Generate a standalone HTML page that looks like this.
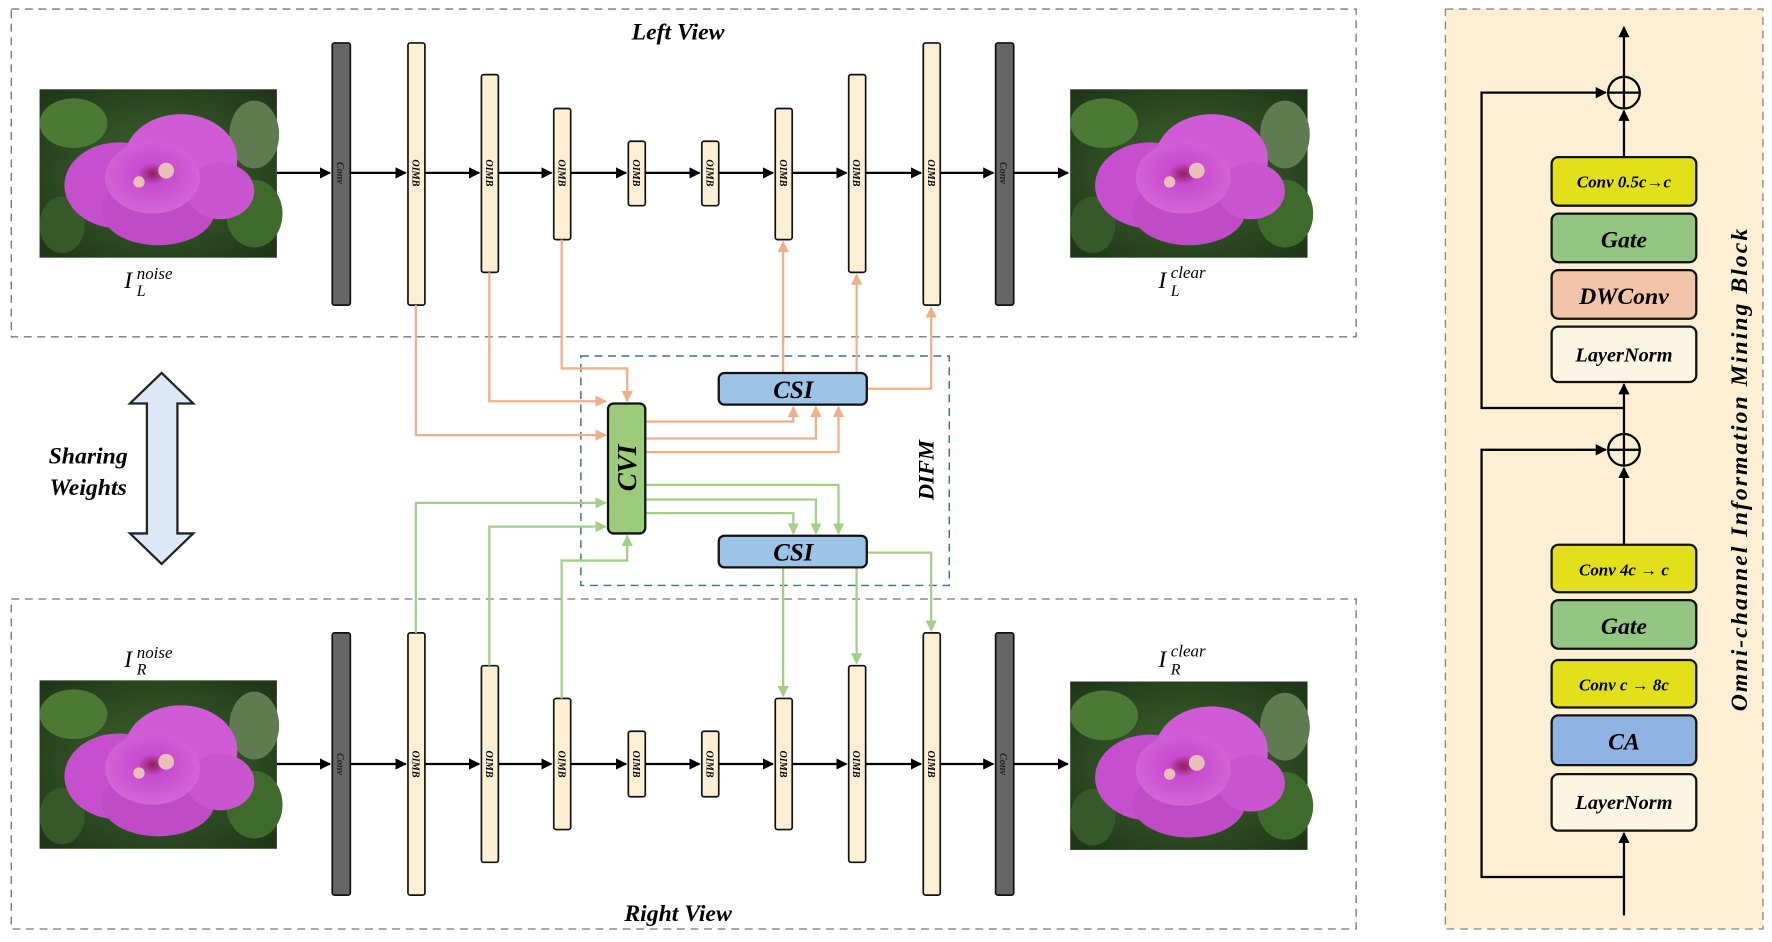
<!DOCTYPE html>
<html><head><meta charset="utf-8"><style>
html,body{margin:0;padding:0;background:#fff;}
svg{display:block;}
text{font-family:"Liberation Serif",serif;font-weight:bold;font-style:italic;}
</style></head><body>
<svg width="1772" height="942" viewBox="0 0 1568 833.5" preserveAspectRatio="none" xmlns="http://www.w3.org/2000/svg">
<defs>
<marker id="ak" viewBox="0 0 10 10" refX="9" refY="5" markerWidth="5" markerHeight="5" orient="auto"><path d="M0,0 L10,5 L0,10 z" fill="#000"/></marker>
<marker id="ao" viewBox="0 0 10 10" refX="9" refY="5" markerWidth="5" markerHeight="5" orient="auto"><path d="M0,0 L10,5 L0,10 z" fill="#f0b086"/></marker>
<marker id="ag" viewBox="0 0 10 10" refX="9" refY="5" markerWidth="5" markerHeight="5" orient="auto"><path d="M0,0 L10,5 L0,10 z" fill="#a3cf86"/></marker>
<radialGradient id="bg" cx="50%" cy="50%" r="70%"><stop offset="0" stop-color="#3f6a2e"/><stop offset="1" stop-color="#1f3318"/></radialGradient>
<radialGradient id="pet" cx="50%" cy="45%" r="60%"><stop offset="0" stop-color="#8e1e58"/><stop offset="0.25" stop-color="#c84ad0"/><stop offset="1" stop-color="#d46ad8"/></radialGradient>
<g id="flower">
<rect x="0" y="0" width="210" height="149" fill="url(#bg)"/>
<ellipse cx="30" cy="30" rx="30" ry="22" fill="#4c7a34"/>
<ellipse cx="190" cy="40" rx="22" ry="30" fill="#5f7c50"/>
<ellipse cx="190" cy="110" rx="25" ry="30" fill="#3e6b2c"/>
<ellipse cx="20" cy="120" rx="20" ry="25" fill="#36592a"/>
<ellipse cx="70" cy="85" rx="48" ry="38" fill="#c64fd0"/>
<ellipse cx="125" cy="62" rx="50" ry="40" fill="#cf5bd6"/>
<ellipse cx="105" cy="108" rx="50" ry="30" fill="#bf4bc7"/>
<ellipse cx="160" cy="90" rx="30" ry="25" fill="#c955cf"/>
<ellipse cx="100" cy="78" rx="42" ry="32" fill="url(#pet)"/>
<circle cx="112" cy="72" r="7" fill="#e8c0b8"/>
<circle cx="88" cy="82" r="5" fill="#e8c0b8"/>
</g>
</defs>

<rect x="10" y="8" width="1190" height="290" fill="none" stroke="#777" stroke-width="1.2" stroke-dasharray="7,5"/>
<rect x="10" y="530" width="1190" height="292" fill="none" stroke="#777" stroke-width="1.2" stroke-dasharray="7,5"/>
<rect x="1279" y="8" width="281" height="814" fill="#fcefd3" stroke="#888" stroke-width="1.2" stroke-dasharray="7,5"/>

<text x="600" y="35" font-size="21" text-anchor="middle">Left View</text>
<text x="600" y="815" font-size="21" text-anchor="middle">Right View</text>

<use href="#flower" x="35" y="79"/>
<use href="#flower" x="947" y="79"/>
<use href="#flower" x="35" y="602"/>
<use href="#flower" x="947" y="603"/>

<g font-size="21">
<text x="110" y="255" style="font-weight:normal">I</text><text x="121" y="262" font-size="14" style="font-weight:normal">L</text><text x="121" y="247" font-size="15" style="font-weight:normal">noise</text>
<text x="1025" y="255" style="font-weight:normal">I</text><text x="1036" y="262" font-size="14" style="font-weight:normal">L</text><text x="1036" y="246" font-size="15" style="font-weight:normal">clear</text>
<text x="110" y="590" style="font-weight:normal">I</text><text x="121" y="597" font-size="14" style="font-weight:normal">R</text><text x="121" y="582" font-size="15" style="font-weight:normal">noise</text>
<text x="1025" y="590" style="font-weight:normal">I</text><text x="1036" y="597" font-size="14" style="font-weight:normal">R</text><text x="1036" y="581" font-size="15" style="font-weight:normal">clear</text>
</g>

<g stroke="#000" stroke-width="2" marker-end="url(#ak)">
<line x1="245" y1="153" x2="292" y2="153"/><line x1="310" y1="153" x2="359" y2="153"/><line x1="376" y1="153" x2="424" y2="153"/><line x1="441" y1="153" x2="488" y2="153"/><line x1="505" y1="153" x2="554" y2="153"/><line x1="571" y1="153" x2="619" y2="153"/><line x1="636" y1="153" x2="684" y2="153"/><line x1="701" y1="153" x2="749" y2="153"/><line x1="766" y1="153" x2="815" y2="153"/><line x1="832" y1="153" x2="879" y2="153"/><line x1="897" y1="153" x2="945" y2="153"/>
<line x1="245" y1="676" x2="292" y2="676"/><line x1="310" y1="676" x2="359" y2="676"/><line x1="376" y1="676" x2="424" y2="676"/><line x1="441" y1="676" x2="488" y2="676"/><line x1="505" y1="676" x2="554" y2="676"/><line x1="571" y1="676" x2="619" y2="676"/><line x1="636" y1="676" x2="684" y2="676"/><line x1="701" y1="676" x2="749" y2="676"/><line x1="766" y1="676" x2="815" y2="676"/><line x1="832" y1="676" x2="879" y2="676"/><line x1="897" y1="676" x2="945" y2="676"/>
</g>

<g stroke="#111" stroke-width="1.5">
<rect x="294" y="38" width="16" height="232" rx="2" fill="#666"/>
<rect x="361" y="38" width="15" height="232" rx="2" fill="#fcefd3"/>
<rect x="426" y="66" width="15" height="175" rx="2" fill="#fcefd3"/>
<rect x="490" y="96" width="15" height="116" rx="2" fill="#fcefd3"/>
<rect x="556" y="125" width="15" height="57" rx="2" fill="#fcefd3"/>
<rect x="621" y="125" width="15" height="57" rx="2" fill="#fcefd3"/>
<rect x="686" y="96" width="15" height="116" rx="2" fill="#fcefd3"/>
<rect x="751" y="66" width="15" height="175" rx="2" fill="#fcefd3"/>
<rect x="817" y="38" width="15" height="232" rx="2" fill="#fcefd3"/>
<rect x="881" y="38" width="16" height="232" rx="2" fill="#666"/>
<rect x="294" y="560" width="16" height="232" rx="2" fill="#666"/>
<rect x="361" y="560" width="15" height="232" rx="2" fill="#fcefd3"/>
<rect x="426" y="589" width="15" height="174" rx="2" fill="#fcefd3"/>
<rect x="490" y="618" width="15" height="116" rx="2" fill="#fcefd3"/>
<rect x="556" y="647" width="15" height="58" rx="2" fill="#fcefd3"/>
<rect x="621" y="647" width="15" height="58" rx="2" fill="#fcefd3"/>
<rect x="686" y="618" width="15" height="116" rx="2" fill="#fcefd3"/>
<rect x="751" y="589" width="15" height="174" rx="2" fill="#fcefd3"/>
<rect x="817" y="560" width="15" height="232" rx="2" fill="#fcefd3"/>
<rect x="881" y="560" width="16" height="232" rx="2" fill="#666"/>
</g>
<g font-size="9" text-anchor="middle">
<text transform="translate(298,153) rotate(90)" fill="#222">Conv</text>
<text transform="translate(365,153) rotate(90)">OIMB</text><text transform="translate(430,153) rotate(90)">OIMB</text><text transform="translate(494,153) rotate(90)">OIMB</text><text transform="translate(560,153) rotate(90)">OIMB</text><text transform="translate(625,153) rotate(90)">OIMB</text><text transform="translate(690,153) rotate(90)">OIMB</text><text transform="translate(755,153) rotate(90)">OIMB</text><text transform="translate(821,153) rotate(90)">OIMB</text>
<text transform="translate(885,153) rotate(90)" fill="#222">Conv</text>
<text transform="translate(298,676) rotate(90)" fill="#222">Conv</text>
<text transform="translate(365,676) rotate(90)">OIMB</text><text transform="translate(430,676) rotate(90)">OIMB</text><text transform="translate(494,676) rotate(90)">OIMB</text><text transform="translate(560,676) rotate(90)">OIMB</text><text transform="translate(625,676) rotate(90)">OIMB</text><text transform="translate(690,676) rotate(90)">OIMB</text><text transform="translate(755,676) rotate(90)">OIMB</text><text transform="translate(821,676) rotate(90)">OIMB</text>
<text transform="translate(885,676) rotate(90)" fill="#222">Conv</text>
</g>

<rect x="514" y="315" width="326" height="203" fill="none" stroke="#3d7090" stroke-width="1.3" stroke-dasharray="7,5"/>
<text transform="translate(826,416) rotate(-90)" font-size="20" text-anchor="middle">DIFM</text>

<g stroke="#f0b086" stroke-width="2" fill="none" marker-end="url(#ao)">
<polyline points="368,270 368,385 536,385"/>
<polyline points="433,241 433,355 536,355"/>
<polyline points="497,212 497,326 555,326 555,355"/>
<polyline points="571,373 702,373 702,360"/>
<polyline points="571,388 722,388 722,360"/>
<polyline points="571,400 742,400 742,360"/>
<polyline points="693,330 693,214"/>
<polyline points="758,330 758,243"/>
<polyline points="767,344 824,344 824,272"/>
</g>
<g stroke="#a3cf86" stroke-width="2" fill="none" marker-end="url(#ag)">
<polyline points="368,560 368,445 536,445"/>
<polyline points="433,589 433,466 536,466"/>
<polyline points="497,618 497,496 555,496 555,474"/>
<polyline points="571,429 742,429 742,472"/>
<polyline points="571,442 722,442 722,472"/>
<polyline points="571,454 702,454 702,472"/>
<polyline points="693,502 693,616"/>
<polyline points="758,502 758,587"/>
<polyline points="767,489 824,489 824,558"/>
</g>

<rect x="538" y="357" width="33" height="115" rx="5" fill="#9bcb7b" stroke="#111" stroke-width="2"/>
<text transform="translate(563,414) rotate(-90)" font-size="24" text-anchor="middle">CVI</text>
<rect x="636" y="330" width="131" height="28" rx="5" fill="#9dc3e6" stroke="#111" stroke-width="2"/>
<text x="702" y="352" font-size="22" text-anchor="middle">CSI</text>
<rect x="636" y="474" width="131" height="28" rx="5" fill="#9dc3e6" stroke="#111" stroke-width="2"/>
<text x="702" y="496" font-size="22" text-anchor="middle">CSI</text>

<path d="M143,330 L171,357 L157,357 L157,472 L171,472 L143,499 L115,472 L130,472 L130,357 L115,357 Z" fill="#dce8f5" stroke="#222" stroke-width="2"/>
<text x="78" y="410" font-size="21" text-anchor="middle">Sharing</text>
<text x="78" y="438" font-size="21" text-anchor="middle">Weights</text>

<g stroke="#000" stroke-width="2" fill="none">
<line x1="1437" y1="810" x2="1437" y2="737" marker-end="url(#ak)"/>
<polyline points="1437,776 1311,776 1311,398 1421,398" marker-end="url(#ak)"/>
<line x1="1437" y1="482" x2="1437" y2="414" marker-end="url(#ak)"/>
<line x1="1437" y1="384" x2="1437" y2="340" marker-end="url(#ak)"/>
<polyline points="1437,361 1311,361 1311,82 1421,82" marker-end="url(#ak)"/>
<line x1="1437" y1="139" x2="1437" y2="98" marker-end="url(#ak)"/>
<line x1="1437" y1="68" x2="1437" y2="24" marker-end="url(#ak)"/>
<circle cx="1437" cy="82" r="14"/><line x1="1423" y1="82" x2="1451" y2="82"/><line x1="1437" y1="68" x2="1437" y2="96"/>
<circle cx="1437" cy="398" r="14"/><line x1="1423" y1="398" x2="1451" y2="398"/><line x1="1437" y1="384" x2="1437" y2="412"/>
</g>
<g stroke="#111" stroke-width="2">
<rect x="1373" y="139" width="128" height="43" rx="6" fill="#e2e01a"/>
<rect x="1373" y="189" width="128" height="43" rx="6" fill="#93c683"/>
<rect x="1373" y="239" width="128" height="43" rx="6" fill="#f3c4a7"/>
<rect x="1373" y="289" width="128" height="49" rx="6" fill="#fdf5e4"/>
<rect x="1373" y="482" width="128" height="42" rx="6" fill="#e2e01a"/>
<rect x="1373" y="531" width="128" height="43" rx="6" fill="#93c683"/>
<rect x="1373" y="584" width="128" height="42" rx="6" fill="#e2e01a"/>
<rect x="1373" y="633" width="128" height="44" rx="6" fill="#8fb4e3"/>
<rect x="1373" y="685" width="128" height="50" rx="6" fill="#fdf5e4"/>
</g>
<g text-anchor="middle">
<text x="1437" y="166" font-size="15">Conv 0.5c→c</text>
<text x="1437" y="219" font-size="21">Gate</text>
<text x="1437" y="269" font-size="21">DWConv</text>
<text x="1437" y="320" font-size="18">LayerNorm</text>
<text x="1437" y="509" font-size="15">Conv 4c → c</text>
<text x="1437" y="561" font-size="21">Gate</text>
<text x="1437" y="611" font-size="15">Conv c → 8c</text>
<text x="1437" y="663" font-size="21">CA</text>
<text x="1437" y="716" font-size="18">LayerNorm</text>
</g>
<text transform="translate(1546,415) rotate(-90)" font-size="21" letter-spacing="1.8" text-anchor="middle">Omni-channel Information Mining Block</text>
</svg>
</body></html>
